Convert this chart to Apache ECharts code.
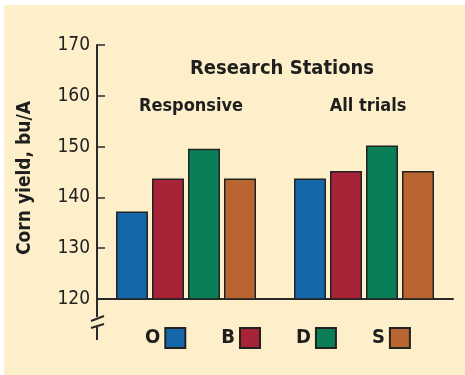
<!DOCTYPE html>
<html>
<head>
<meta charset="utf-8">
<script src="https://cdn.jsdelivr.net/npm/echarts@6/dist/echarts.min.js"></script>
<style>
  html, body { margin: 0; padding: 0; background: #ffffff; }
  #chart { width: 465px; height: 375px; }
</style>
</head>
<body>
<div id="chart"></div>
<script>
// Corn yield by fertilizer treatment at research stations
const groups = ['Responsive', 'All trials'];
const treatments = ['O', 'B', 'D', 'S'];
const yieldO = [137.2, 143.7];
const yieldB = [143.7, 145.2];
const yieldD = [149.6, 150.2];
const yieldS = [143.7, 145.2];
const yTicks = [120, 130, 140, 150, 160, 170];
const yTitle = 'Corn yield, bu/A';

const colors = ['#1467a8', '#a72337', '#0a7e56', '#b96532'];
const seriesValues = [yieldO, yieldB, yieldD, yieldS];
const FONT = "'Liberation Sans Narrow', 'DejaVu Sans Condensed', sans-serif";
const INK = '#1e1e1e';

const chart = echarts.init(document.getElementById('chart'), null, { renderer: 'canvas' });

const GRID_LEFT = 97;

const option = {
  backgroundColor: '#ffffff',
  animation: false,
  textStyle: { fontFamily: FONT },
  title: [
    { text: 'Research Stations', left: 277, top: 54, textAlign: 'center',
      textStyle: { fontFamily: FONT, fontSize: 20, fontWeight: 'bold', color: INK } },
    { text: groups[0], left: 186, top: 92, textAlign: 'center',
      textStyle: { fontFamily: FONT, fontSize: 18, fontWeight: 'bold', color: INK } },
    { text: groups[1], left: 363, top: 92, textAlign: 'center',
      textStyle: { fontFamily: FONT, fontSize: 18, fontWeight: 'bold', color: INK } }
  ],
  legend: {
    left: 140, top: 322,
    align: 'right',
    itemWidth: 20, itemHeight: 20, itemGap: 35,
    icon: 'rect',
    data: treatments,
    textStyle: { fontFamily: FONT, fontSize: 20, fontWeight: 'bold', color: INK, padding: [2, 0, 0, 0] },
    selectedMode: false
  },
  grid: { left: GRID_LEFT, right: 12, top: 45, bottom: 76, containLabel: false },
  xAxis: {
    type: 'category',
    data: groups,
    axisLine: { lineStyle: { color: '#2a2a2a', width: 2 } },
    axisTick: { inside: true, length: 5, lineStyle: { color: '#2a2a2a', width: 1.5 } },
    axisLabel: { show: false }
  },
  yAxis: {
    type: 'value',
    min: yTicks[0], max: yTicks[yTicks.length - 1], interval: 10,
    axisLine: { show: true, lineStyle: { color: '#2a2a2a', width: 2 } },
    axisTick: { show: true, inside: true, length: 8, lineStyle: { color: '#2a2a2a', width: 1.5 } },
    axisLabel: { margin: 7, fontFamily: FONT, fontSize: 19, color: '#222' },
    splitLine: { show: false }
  },
  series: treatments.map((name, i) => ({
    name,
    type: 'bar',
    data: seriesValues[i],
    barWidth: 32,
    barGap: '12.5%',
    itemStyle: { color: colors[i], borderColor: '#222', borderWidth: 1.5 }
  }))
};

chart.setOption(option);

// cream panel, vertical axis title and the axis-break symbol below the value axis
const yBase = chart.convertToPixel({ yAxisIndex: 0 }, yTicks[0]);
const x0 = GRID_LEFT;
chart.setOption({
  graphic: [
    { type: 'rect', z: -10, silent: true,
      shape: { x: 4, y: 5, width: 461, height: 370 },
      style: { fill: '#fdefca' } },
    { type: 'text', x: 25, y: 178, rotation: Math.PI / 2,
      style: { text: yTitle, fontFamily: FONT, fontSize: 19, fontWeight: 'bold', fill: INK,
               align: 'center', verticalAlign: 'middle' } },
    { type: 'line', shape: { x1: x0, y1: yBase, x2: x0, y2: yBase + 18 },
      style: { stroke: '#2a2a2a', lineWidth: 2 } },
    { type: 'line', shape: { x1: x0 - 6, y1: yBase + 22, x2: x0 + 7, y2: yBase + 17 },
      style: { stroke: '#2a2a2a', lineWidth: 2 } },
    { type: 'line', shape: { x1: x0 - 6, y1: yBase + 29, x2: x0 + 7, y2: yBase + 25 },
      style: { stroke: '#2a2a2a', lineWidth: 2 } },
    { type: 'line', shape: { x1: x0, y1: yBase + 27, x2: x0, y2: yBase + 41 },
      style: { stroke: '#2a2a2a', lineWidth: 2 } }
  ]
});
</script>
</body>
</html>
